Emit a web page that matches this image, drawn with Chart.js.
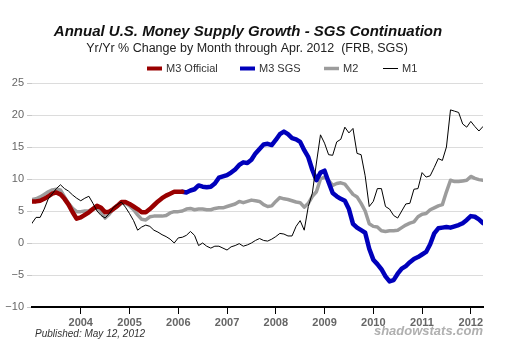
<!DOCTYPE html>
<html><head><meta charset="utf-8">
<script src="https://cdn.jsdelivr.net/npm/chart.js@4/dist/chart.umd.min.js"></script>
<style>html,body{margin:0;padding:0;background:#fff;}canvas{display:block;}</style>
</head><body>
<canvas id="c" width="520" height="361"></canvas>
<script>
// ---- data (monthly, Jan 2003 .. Apr 2012) ----
const startYear = 2003;
const yearTicks = [2004, 2005, 2006, 2007, 2008, 2009, 2010, 2011, 2012];
const yTicks = [-10, -5, 0, 5, 10, 15, 20, 25];
const titleText = "Annual U.S. Money Supply Growth - SGS Continuation";
const subtitleText = "Yr/Yr % Change by Month through Apr. 2012  (FRB, SGS)";
const seriesNames = ["M3 Official", "M3 SGS", "M2", "M1"];
const publishedText = "Published: May 12, 2012";
const creditText = "shadowstats.com";

const m3Official = [6.5, 6.5, 6.6, 6.9, 7.3, 7.7, 7.9, 7.6, 6.9, 6.0,
  4.8, 3.8, 4.0, 4.4, 4.8, 5.3, 5.8, 5.5, 4.8, 4.9,
  5.3, 5.8, 6.4, 6.4, 6.1, 5.7, 5.3, 4.8, 4.8, 5.3,
  5.9, 6.5, 7.0, 7.4, 7.7, 8.0, 8.0, 8.0];
const m3SgsStartMonth = 37; // Feb 2006
const m3Sgs = [8.0, 7.9, 8.2, 8.4, 9.0, 8.8, 8.7, 8.8, 9.3, 10.2,
  10.4, 10.6, 11.0, 11.5, 12.2, 12.6, 12.5, 13.0, 14.0, 14.7,
  15.4, 15.5, 15.3, 16.1, 17.0, 17.4, 17.0, 16.4, 16.2, 15.8,
  14.5, 13.4, 11.4, 9.8, 11.0, 11.3, 9.5, 7.8, 7.3, 6.9,
  6.6, 5.3, 3.0, 2.4, 2.0, 1.6, -0.9, -2.6, -3.3, -4.1,
  -5.2, -6.0, -5.8, -4.8, -4.0, -3.6, -3.0, -2.5, -2.2, -1.8,
  -1.4, -0.2, 1.5, 2.3, 2.4, 2.5, 2.4, 2.6, 2.8, 3.1,
  3.6, 4.2, 4.1, 3.7, 3.1];
const m2 = [6.8, 6.9, 7.2, 7.6, 8.0, 8.3, 8.4, 8.3, 7.2, 6.2,
  5.4, 4.9, 4.9, 5.0, 5.0, 5.4, 5.5, 4.8, 3.9, 4.5,
  5.3, 5.7, 6.2, 6.2, 5.8, 5.2, 4.4, 3.7, 3.6, 4.1,
  4.2, 4.2, 4.2, 4.3, 4.7, 4.9, 4.9, 5.0, 5.3, 5.4,
  5.2, 5.3, 5.3, 5.2, 5.2, 5.4, 5.5, 5.5, 5.7, 5.9,
  6.1, 6.5, 6.3, 6.5, 6.7, 6.6, 6.5, 6.0, 5.7, 5.8,
  6.5, 7.1, 6.9, 6.8, 6.6, 6.4, 6.3, 5.6, 6.2, 7.3,
  8.0, 10.0, 10.3, 9.8, 9.0, 9.3, 9.4, 9.2, 8.4, 7.6,
  7.2, 6.2, 5.0, 3.0, 2.6, 2.5, 1.9, 1.8, 1.9, 1.9,
  2.0, 2.4, 2.8, 3.1, 3.3, 4.1, 4.5, 4.6, 5.2, 5.5,
  5.8, 6.0, 8.0, 9.8, 9.6, 9.6, 9.7, 9.8, 10.4, 10.1,
  9.9, 9.8];
const m1 = [3.1, 4.0, 4.0, 5.3, 6.9, 7.7, 8.5, 9.1, 8.5, 8.1,
  7.5, 7.0, 6.6, 7.0, 7.3, 6.2, 5.0, 4.3, 3.9, 4.6,
  5.5, 6.0, 6.4, 5.6, 4.6, 3.5, 2.0, 2.5, 2.8, 2.6,
  2.0, 1.7, 1.3, 1.0, 0.6, 0.0, 0.8, 0.9, 1.2, 1.8,
  1.2, -0.4, 0.0, -0.5, -0.8, -0.5, -0.5, -0.8, -1.1, -0.6,
  -0.4, -0.1, -0.5, -0.3, 0.0, 0.4, 0.7, 0.4, 0.3, 0.6,
  1.0, 1.5, 1.4, 1.1, 1.1, 2.6, 3.5, 2.0, 5.7, 7.8,
  12.5, 16.9, 15.6, 13.8, 13.7, 15.8, 16.2, 18.1, 17.2, 17.9,
  14.0, 13.8, 10.5, 5.7, 6.5, 8.5, 8.5, 5.7, 5.3, 4.3,
  3.9, 5.0, 6.1, 6.2, 8.4, 8.5, 11.0, 10.3, 10.5, 11.8,
  13.2, 12.9, 15.0, 20.8, 20.6, 20.4, 18.6, 18.1, 19.0, 18.2,
  17.5, 18.2];

// ---- styles ----
const FONT = '"Liberation Sans", Arial, Helvetica, sans-serif';
const colors = { "M3 Official": "#990000", "M3 SGS": "#0000bb", "M2": "#9c9c9c", "M1": "#000000" };
const widths = { "M3 Official": 4.5, "M3 SGS": 4.5, "M2": 3.5, "M1": 1 };

const toPoints = (arr, start) => arr.map((v, i) => ({ x: start + i, y: v }));
const lastMonth = m1.length - 1;

const textPlugin = {
  id: 'texts',
  afterDraw(chart) {
    const ctx = chart.ctx;
    ctx.save();
    ctx.textBaseline = 'alphabetic';
    ctx.textAlign = 'center';
    ctx.fillStyle = '#111';
    ctx.font = 'italic bold 15px ' + FONT;
    ctx.fillText(titleText, 248, 36);
    ctx.fillStyle = '#222';
    ctx.font = '12.5px ' + FONT;
    ctx.fillText(subtitleText, 247, 52);

    // legend
    const legendX = [147, 240, 324, 383];
    ctx.textAlign = 'left';
    ctx.font = '11px ' + FONT;
    seriesNames.forEach((name, i) => {
      const x = legendX[i];
      ctx.strokeStyle = colors[name];
      ctx.lineWidth = Math.min(widths[name], 4);
      ctx.beginPath();
      ctx.moveTo(x, 68.5);
      ctx.lineTo(x + 15, 68.5);
      ctx.stroke();
      ctx.fillStyle = '#333';
      ctx.fillText(name, x + 19, 72);
    });

    ctx.font = 'italic 10px ' + FONT;
    ctx.fillStyle = '#333';
    ctx.fillText(publishedText, 35, 337);

    ctx.textAlign = 'right';
    ctx.font = 'italic bold 13px ' + FONT;
    ctx.fillStyle = '#b0b0b0';
    ctx.fillText(creditText, 483, 335);
    ctx.restore();
  }
};

const mk = (name, data, order) => ({
  label: name, data, order,
  borderColor: colors[name], borderWidth: widths[name],
  pointRadius: 0, tension: 0, fill: false,
  borderJoinStyle: 'round', borderCapStyle: 'round'
});

new Chart(document.getElementById('c'), {
  type: 'line',
  data: {
    datasets: [
      mk("M1", toPoints(m1, 0), 0),
      mk("M3 Official", toPoints(m3Official, 0), 1),
      mk("M3 SGS", toPoints(m3Sgs, m3SgsStartMonth), 1),
      mk("M2", toPoints(m2, 0), 2)
    ]
  },
  options: {
    responsive: false,
    animation: false,
    devicePixelRatio: 1,
    layout: { padding: { left: 0, right: 37, top: 83, bottom: 0 } },
    plugins: { legend: { display: false }, tooltip: { enabled: false }, title: { display: false } },
    scales: {
      x: {
        type: 'linear', min: 0, max: lastMonth,
        afterBuildTicks(s) { s.ticks = yearTicks.map(y => ({ value: (y - startYear) * 12 })); },
        ticks: {
          autoSkip: false, maxRotation: 0, color: '#666', padding: 2,
          font: { size: 11, weight: 'bold', family: FONT },
          callback: v => String(startYear + Math.round(v / 12))
        },
        grid: { drawOnChartArea: false, drawTicks: true, tickLength: 7, tickColor: '#000', tickWidth: 1 },
        border: { display: true, color: '#000', width: 2 },
        afterFit(s) { s.height = 54; }
      },
      y: {
        min: yTicks[0], max: yTicks[yTicks.length - 1],
        afterBuildTicks(s) { s.ticks = yTicks.map(v => ({ value: v })); },
        ticks: {
          color: '#666', padding: 3,
          font: { size: 11, family: FONT },
          callback: v => v < 0 ? '\u2212' + Math.abs(v) : String(v)
        },
        grid: { color: '#dcdcdc', lineWidth: 1, tickLength: 5, drawTicks: true, tickColor: '#c8c8c8' },
        border: { display: false },
        afterFit(s) { s.width = 32; }
      }
    }
  },
  plugins: [textPlugin]
});
</script>
</body></html>
